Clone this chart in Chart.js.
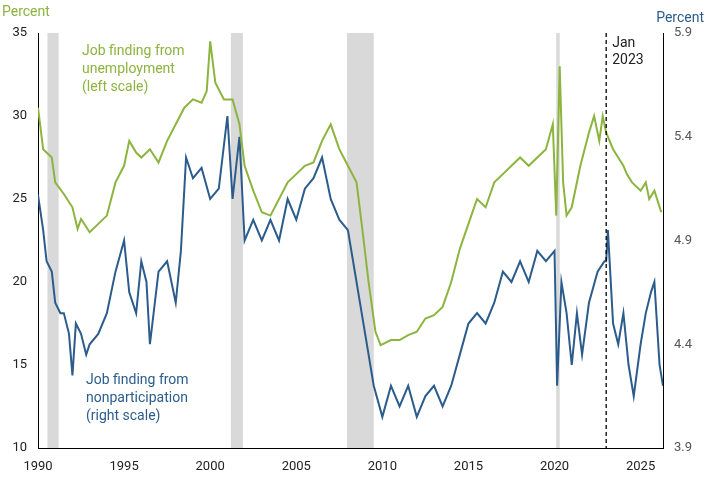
<!DOCTYPE html>
<html>
<head>
<script src="https://cdn.jsdelivr.net/npm/chart.js@4"></script>
<style>
body { margin: 0; background: #fff; }
#wrap { width: 711px; height: 478px; }
</style>
</head>
<body>
<div id="wrap"><canvas id="c"></canvas></div>
<script>
// Job finding from unemployment (left scale)
const greenYears = [1990,1990.3,1990.8,1991,1991.5,1992,1992.3,1992.5,1993,1993.5,1994,1994.5,1995,1995.3,1995.7,1996,1996.5,1997,1997.5,1998,1998.5,1999,1999.5,1999.8,2000,2000.3,2000.8,2001.3,2001.7,2002,2002.5,2003,2003.5,2004,2004.5,2005,2005.5,2006,2006.5,2007,2007.5,2008,2008.5,2008.8,2009.2,2009.6,2009.9,2010.5,2011,2011.5,2012,2012.5,2013,2013.5,2014,2014.5,2015,2015.5,2016,2016.5,2017,2017.5,2018,2018.5,2019,2019.5,2019.9,2020.1,2020.3,2020.5,2020.7,2021,2021.5,2022,2022.3,2022.6,2022.8,2023,2023.4,2023.7,2024,2024.2,2024.5,2025,2025.3,2025.5,2025.8,2026.2];
const greenVals = [30.5,28,27.5,26,25.3,24.5,23.2,23.8,23,23.5,24,26,27,28.5,27.8,27.5,28,27.2,28.5,29.5,30.5,31,30.8,31.5,34.5,32,31,31,29.5,27,25.5,24.2,24,25,26,26.5,27,27.2,28.5,29.5,28,27,26,23.5,20,17,16.2,16.5,16.5,16.8,17,17.8,18,18.5,20,22,23.5,25,24.5,26,26.5,27,27.5,27,27.5,28,29.5,24,33,26,24,24.5,27,29,30,28.5,30,29,28,27.5,27,26.5,26,25.5,26,25,25.5,24.2];
// Job finding from nonparticipation (right scale)
const blueYears = [1990,1990.3,1990.5,1990.8,1991,1991.3,1991.5,1991.8,1992,1992.2,1992.5,1992.8,1993,1993.5,1994,1994.5,1995,1995.3,1995.7,1996,1996.3,1996.5,1997,1997.5,1998,1998.3,1998.6,1999,1999.5,2000,2000.5,2001,2001.3,2001.7,2002,2002.5,2003,2003.5,2004,2004.5,2005,2005.5,2006,2006.5,2007,2007.5,2008,2008.5,2009,2009.5,2010,2010.5,2011,2011.5,2012,2012.5,2013,2013.5,2014,2014.5,2015,2015.5,2016,2016.5,2017,2017.5,2018,2018.5,2019,2019.5,2020,2020.15,2020.4,2020.7,2021,2021.3,2021.6,2022,2022.5,2022.9,2023,2023.1,2023.4,2023.7,2024,2024.3,2024.6,2025,2025.3,2025.6,2025.8,2026.1,2026.3];
const blueVals = [5.12,4.95,4.8,4.75,4.6,4.55,4.55,4.45,4.25,4.5,4.45,4.35,4.4,4.45,4.55,4.75,4.9,4.65,4.55,4.8,4.7,4.4,4.75,4.8,4.6,4.85,5.3,5.2,5.25,5.1,5.15,5.5,5.1,5.4,4.9,5.0,4.9,5.0,4.9,5.1,5.0,5.15,5.2,5.3,5.1,5.0,4.95,4.7,4.45,4.2,4.05,4.2,4.1,4.2,4.05,4.15,4.2,4.1,4.2,4.35,4.5,4.55,4.5,4.6,4.75,4.7,4.8,4.7,4.85,4.8,4.85,4.2,4.7,4.55,4.3,4.55,4.35,4.6,4.75,4.8,4.8,4.95,4.5,4.4,4.55,4.3,4.15,4.4,4.55,4.65,4.7,4.3,4.2];
const recessions = [[1990.55,1991.2],[2001.2,2001.9],[2007.95,2009.5],[2020.1,2020.3]];
const xTicks = [1990,1995,2000,2005,2010,2015,2020,2025];
const leftTicks = [10,15,20,25,30,35];
const rightTicks = [3.9,4.4,4.9,5.4,5.9];

const GREEN = '#8cb43f', BLUE = '#2b5c8c';

const extras = {
  id: 'extras',
  beforeDatasetsDraw(chart) {
    const {ctx, chartArea: a, scales: {x}} = chart;
    ctx.save();
    ctx.fillStyle = '#d9d9d9';
    recessions.forEach(([s, e]) => {
      const x0 = x.getPixelForValue(s), x1 = x.getPixelForValue(e);
      ctx.fillRect(x0, a.top, x1 - x0, a.bottom - a.top);
    });
    ctx.restore();
  },
  afterDatasetsDraw(chart) {
    const {ctx, chartArea: a, scales: {x}} = chart;
    const xd = x.getPixelForValue(2023);
    ctx.save();
    ctx.strokeStyle = '#000'; ctx.lineWidth = 1.3; ctx.setLineDash([4, 3]);
    ctx.beginPath(); ctx.moveTo(xd, a.top); ctx.lineTo(xd, a.bottom); ctx.stroke();
    ctx.setLineDash([]);
    ctx.font = '14px Roboto';
    ctx.fillStyle = '#222';
    ctx.fillText('Jan', xd + 6, a.top + 14);
    ctx.fillText('2023', xd + 6, a.top + 31);
    ctx.fillStyle = GREEN;
    ['Job finding from', 'unemployment', '(left scale)'].forEach((t, i) => ctx.fillText(t, 82, 55 + i * 18));
    ctx.fillStyle = BLUE;
    ['Job finding from', 'nonparticipation', '(right scale)'].forEach((t, i) => ctx.fillText(t, 86, 384 + i * 18));
    ctx.fillStyle = GREEN; ctx.textAlign = 'left';
    ctx.fillText('Percent', 2, 16);
    ctx.fillStyle = BLUE; ctx.textAlign = 'right';
    ctx.fillText('Percent', 704, 22);
    ctx.restore();
  }
};

new Chart(document.getElementById('c'), {
  type: 'line',
  data: {
    datasets: [
      { label: 'Unemployment', data: greenYears.map((v, i) => ({x: v, y: greenVals[i]})), borderColor: GREEN, borderWidth: 2, pointRadius: 0, tension: 0, yAxisID: 'y' },
      { label: 'Nonparticipation', data: blueYears.map((v, i) => ({x: v, y: blueVals[i]})), borderColor: BLUE, borderWidth: 2, pointRadius: 0, tension: 0, yAxisID: 'y2' }
    ]
  },
  options: {
    responsive: true, maintainAspectRatio: false, animation: false,
    layout: { padding: { top: 33, left: 0, right: 0, bottom: 0 } },
    plugins: { legend: { display: false }, tooltip: { enabled: false } },
    scales: {
      x: {
        type: 'linear', min: 1990, max: 2026.3,
        afterBuildTicks: s => { s.ticks = xTicks.map(v => ({value: v})); },
        afterFit: s => { s.height = 30; },
        grid: { display: false, drawTicks: true },
        border: { color: '#000' },
        ticks: { color: '#222', font: { family: 'Roboto', size: 13 }, maxRotation: 0, callback: v => v }
      },
      y: {
        position: 'left', min: 10, max: 35,
        afterBuildTicks: s => { s.ticks = leftTicks.map(v => ({value: v})); },
        afterFit: s => { s.width = 38; },
        grid: { display: false },
        border: { color: '#000' },
        ticks: { color: '#222', font: { family: 'Roboto', size: 13 } }
      },
      y2: {
        position: 'right', min: 3.9, max: 5.9,
        afterBuildTicks: s => { s.ticks = rightTicks.map(v => ({value: v})); },
        afterFit: s => { s.width = 48; },
        grid: { display: false },
        border: { color: '#000' },
        ticks: { color: '#555', font: { family: 'Roboto', size: 13 }, callback: v => v.toFixed(1) }
      }
    }
  },
  plugins: [extras]
});
</script>
</body>
</html>
